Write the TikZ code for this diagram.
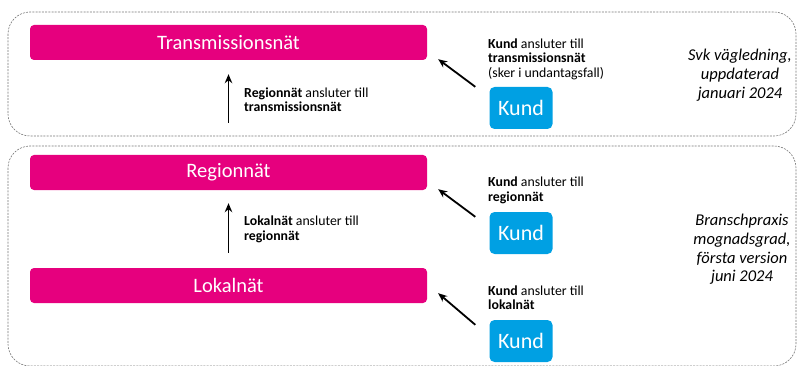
\documentclass[tikz,border=0pt]{standalone}
\usepackage{fontspec}
\setmainfont{Carlito}
\usetikzlibrary{arrows.meta}
\definecolor{pinkbar}{RGB}{230,0,126}
\definecolor{kundblue}{RGB}{0,160,227}
\definecolor{dashgray}{RGB}{120,120,120}
\begin{document}
\begin{tikzpicture}[x=1pt,y=-1pt,
  bar/.style={fill=pinkbar, rounded corners=4pt, minimum width=397pt, minimum height=35pt,
    inner sep=0pt, text=white, font=\fontsize{20.5}{24}\selectfont},
  kund/.style={fill=kundblue, rounded corners=5pt, minimum width=63pt, minimum height=42pt,
    inner sep=0pt, text=white, font=\fontsize{22}{25}\selectfont},
  lbl/.style={anchor=west, align=left, inner sep=0pt, font=\fontsize{13.8}{14.5}\selectfont},
  side/.style={align=center, inner sep=0pt, font=\fontsize{16.5}{18.7}\selectfont\itshape},
  arr/.style={-{Stealth[length=9pt,width=7.5pt]}, line width=1.8pt, black},
  dbox/.style={draw=dashgray, dash pattern=on 2pt off 1.2pt, line width=0.6pt, rounded corners=22pt}]
\useasboundingbox (0,0) rectangle (797,366);
% dashed group frames
\draw[dbox] (8,12) rectangle (796,136);
\draw[dbox] (8,146) rectangle (796,366);
% network bars
\node[bar] (tn) at (228.5,42.5) {Transmissionsnät};
\node[bar] (rn) at (228.5,172.5) {Regionnät};
\node[bar] (ln) at (228.5,285.5) {Lokalnät};
% customers
\node[kund] (k1) at (521,108) {Kund};
\node[kund] (k2) at (521,233) {Kund};
\node[kund] (k3) at (521,341) {Kund};
% vertical arrows
\coordinate (a1) at (228.5,123);
\draw[arr] (a1) -- ([yshift=-14pt]tn.south);
\draw[arr] ([yshift=15pt]ln.north) -- ([yshift=-13pt]rn.south);
% diagonal arrows
\draw[arr] ([xshift=-14pt]k1.north west) -- ([xshift=11pt,yshift=1pt]tn.south east);
\draw[arr] ([xshift=-14pt,yshift=-5pt]k2.north west) -- ([xshift=11pt,yshift=1pt]rn.south east);
\draw[arr] ([xshift=-14pt,yshift=-5pt]k3.north west) -- ([xshift=11pt,yshift=10pt]ln.south east);
% labels
\node[lbl] (l1) at (244,99.5) {\textbf{Regionnät} ansluter till\\\textbf{transmissionsnät}};
\node[lbl] (l2) at (244,229.5) {\textbf{Lokalnät} ansluter till\\\textbf{regionnät}};
\node[lbl] (c1) at (488,59) {\textbf{Kund} ansluter till\\\textbf{transmissionsnät}\\(sker i undantagsfall)};
\node[lbl] (c2) at (488,190.5) {\textbf{Kund} ansluter till\\\textbf{regionnät}};
\node[lbl] (c3) at (488,297.5) {\textbf{Kund} ansluter till\\\textbf{lokalnät}};
% side notes
\node[side] (svk) at (740,75) {Svk vägledning,\\uppdaterad\\januari 2024};
\node[side] (bp) at (742,249.5) {Branschpraxis\\mognadsgrad,\\första version\\juni 2024};
\end{tikzpicture}
\end{document}
